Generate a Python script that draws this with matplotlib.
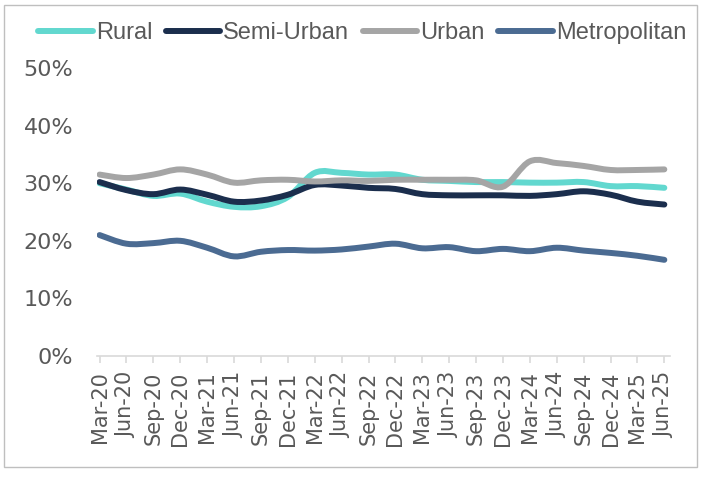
import matplotlib
matplotlib.use("Agg")
import matplotlib.pyplot as plt
import numpy as np
from matplotlib.path import Path
from matplotlib.patches import PathPatch, Rectangle
from matplotlib.lines import Line2D
from matplotlib.ticker import FuncFormatter

quarters = ["Mar-20", "Jun-20", "Sep-20", "Dec-20", "Mar-21", "Jun-21", "Sep-21", "Dec-21",
            "Mar-22", "Jun-22", "Sep-22", "Dec-22", "Mar-23", "Jun-23", "Sep-23", "Dec-23",
            "Mar-24", "Jun-24", "Sep-24", "Dec-24", "Mar-25", "Jun-25"]

rural = [30.0, 28.9, 27.8, 28.2, 26.8, 25.9, 26.0, 27.6, 31.8, 31.8, 31.5, 31.5,
         30.6, 30.4, 30.2, 30.2, 30.1, 30.1, 30.2, 29.5, 29.5, 29.2]
semi_urban = [30.2, 28.8, 28.1, 28.9, 28.0, 26.8, 27.0, 28.0, 29.7, 29.6, 29.2, 29.0,
              28.1, 27.9, 27.9, 27.9, 27.8, 28.1, 28.6, 28.0, 26.8, 26.3]
urban = [31.5, 30.9, 31.5, 32.4, 31.5, 30.1, 30.5, 30.6, 30.3, 30.5, 30.4, 30.6,
         30.6, 30.6, 30.5, 29.4, 33.8, 33.5, 33.0, 32.3, 32.3, 32.4]
metropolitan = [21.0, 19.5, 19.6, 20.0, 18.8, 17.3, 18.1, 18.4, 18.3, 18.5, 19.0, 19.5,
                18.7, 18.9, 18.2, 18.6, 18.2, 18.8, 18.3, 17.9, 17.4, 16.7]

series = [("Rural", rural, "#62D8CF"),
          ("Semi-Urban", semi_urban, "#1B2E4D"),
          ("Urban", urban, "#A5A5A5"),
          ("Metropolitan", metropolitan, "#4B6B92")]

GREY_TEXT = "#595959"


def smooth_path(xs, ys):
    # Catmull-Rom style bezier, similar to spreadsheet "smoothed line"
    pts = np.column_stack([xs, ys]).astype(float)
    n = len(pts)
    verts = [pts[0]]
    codes = [Path.MOVETO]
    for i in range(n - 1):
        p0 = pts[i - 1] if i > 0 else pts[i]
        p1 = pts[i]
        p2 = pts[i + 1]
        p3 = pts[i + 2] if i + 2 < n else pts[i + 1]
        c1 = p1 + (p2 - p0) / 6.0
        c2 = p2 - (p3 - p1) / 6.0
        verts += [c1, c2, p2]
        codes += [Path.CURVE4] * 3
    return Path(verts, codes)


fig = plt.figure(figsize=(7.02, 4.78), dpi=100)
ax = fig.add_axes([0.138, 0.2552, 0.816, 0.6025])

x = np.arange(len(quarters))
for name, vals, color in series:
    patch = PathPatch(smooth_path(x, vals), facecolor="none", edgecolor=color,
                      lw=4.3, capstyle="round", joinstyle="round")
    ax.add_patch(patch)

ax.set_xlim(-0.1, 21.2)
ax.set_ylim(0, 50)
ax.set_yticks([0, 10, 20, 30, 40, 50])
ax.yaxis.set_major_formatter(FuncFormatter(lambda v, p: f"{v:.0f}%"))
ax.set_xticks(x)
ax.set_xticklabels(quarters, rotation=90)

for s in ["top", "right", "left"]:
    ax.spines[s].set_visible(False)
ax.spines["bottom"].set_color("#D9D9D9")
ax.spines["bottom"].set_linewidth(1.2)
ax.tick_params(axis="y", length=0, labelsize=16, labelcolor=GREY_TEXT, pad=17)
ax.tick_params(axis="x", length=5, color="#D9D9D9", width=1.2,
               labelsize=15, labelcolor=GREY_TEXT, pad=6)

handles = [Line2D([], [], color=c, lw=4.3, solid_capstyle="round") for _, _, c in series]
labels = [n for n, _, _ in series]
fig.legend(handles, labels, loc="center", bbox_to_anchor=(0.516, 0.931), ncol=4,
           frameon=False, handlelength=2.3, handletextpad=0.13, columnspacing=0.58,
           prop={"family": ["Liberation Sans", "DejaVu Sans"], "size": 17},
           labelcolor=GREY_TEXT, borderpad=0)

fig.patches.append(Rectangle((4 / 702, 1 - 467 / 478), 693 / 702, 462 / 478,
                             transform=fig.transFigure, fill=False,
                             edgecolor="#BFBFBF", lw=1))

fig.savefig("out.png", dpi=100)
